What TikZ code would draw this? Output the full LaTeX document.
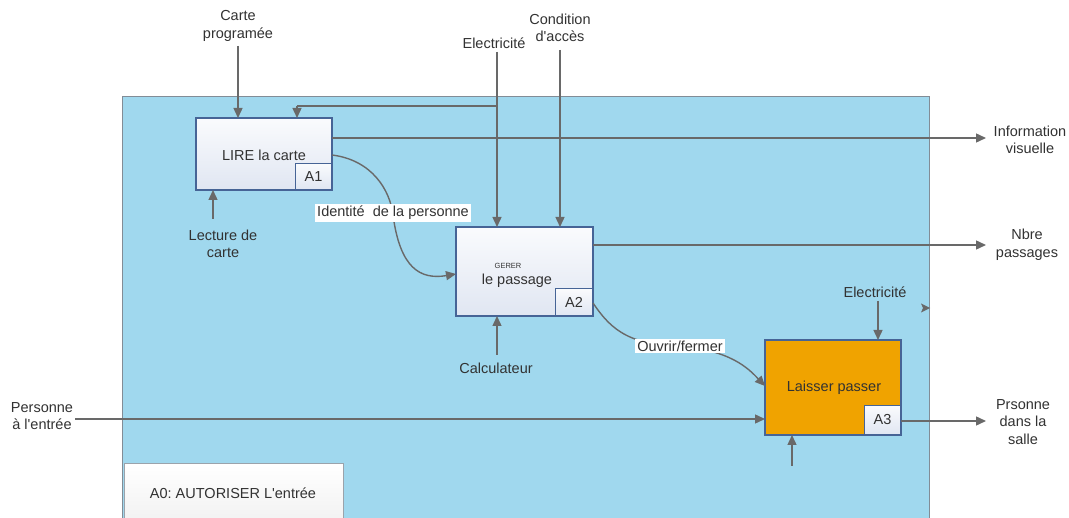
\documentclass[tikz,border=0pt]{standalone}
\usepackage{fontspec}
\setmainfont{Liberation Sans}[Ligatures=TeXOff]
\usetikzlibrary{arrows.meta}
\frenchspacing
\definecolor{sky}{RGB}{160,216,238}
\definecolor{frame}{RGB}{130,140,150}
\definecolor{wire}{RGB}{105,105,105}
\definecolor{boxedge}{RGB}{70,100,150}
\definecolor{boxtop}{RGB}{250,251,253}
\definecolor{boxbot}{RGB}{224,230,242}
\definecolor{amber}{RGB}{240,163,0}
\definecolor{ink}{RGB}{50,50,50}
\tikzset{
  txt/.style={font=\fontsize{14.5}{17.5}\selectfont, text=ink, align=center, inner sep=1pt},
  func/.style={draw=boxedge, line width=1.2pt, top color=boxtop, bottom color=boxbot},
  tag/.style={draw=boxedge, line width=1pt, top color=boxtop, bottom color=boxbot, font=\fontsize{14.5}{17}\selectfont, text=ink},
  flow/.style={draw=wire, line width=1.4pt, -{Triangle[length=10pt,width=9pt]}},
  plain/.style={draw=wire, line width=1.4pt},
  lab/.style={fill=white, font=\fontsize{14.5}{17}\selectfont, text=ink, inner sep=2pt}
}
\begin{document}
\begin{tikzpicture}[x=1pt,y=-1pt]
\useasboundingbox (0,0) rectangle (1069,518);
\clip (0,0) rectangle (1069,518);
\fill[white] (0,0) rectangle (1069,518);
% context frame
\draw[frame, fill=sky, line width=1pt] (122,97) rectangle (929,530);
% A0 title box
\draw[draw=frame!80, line width=1pt, top color=white, bottom color=black!6] (124,464) rectangle (343,530);
\node[txt] (title) at (233,493) {A0: AUTORISER L'entrée};

% function boxes
\draw[func] (196,118) rectangle (332,190);
\node[txt] (a1text) at (264,155) {LIRE la carte};
\node[tag, minimum width=36pt, minimum height=26pt, anchor=south east] (a1) at (332,190) {A1};

\draw[func] (456,227) rectangle (593,316);
\node[font=\fontsize{7.5}{8}\selectfont, text=ink, inner sep=0pt] (a2small) at (508,266) {GERER};
\node[txt] (a2text) at (517,281) {le passage};
\node[tag, minimum width=37pt, minimum height=27pt, anchor=south east] (a2) at (593,316) {A2};

\draw[draw=boxedge, line width=1.2pt, fill=amber] (765,340) rectangle (901,435);
\node[txt] (a3text) at (834,388) {Laisser passer};
\node[tag, minimum width=36pt, minimum height=29pt, anchor=south east] (a3) at (901,435) {A3};

% external labels
\node[txt] (carte) at (238,26) {Carte\\programée};
\node[txt] (elec1) at (494,43) {Electricité};
\node[txt] (cond) at (560,28) {Condition\\d'accès};
\node[txt] (lecture) at (223,244) {Lecture de\\carte};
\node[txt] (calc) at (496,368) {Calculateur};
\node[txt] (elec2) at (875,292) {Electricité};
\node[txt] (pers) at (42,416) {Personne\\à l'entrée};
\node[txt] (info) at (1030,140) {Information\\visuelle};
\node[txt] (nbre) at (1027,245) {Nbre\\passages};
\node[txt] (salle) at (1023,422) {Prsonne\\dans la\\salle};

% connection points
\coordinate (c1) at (238,46);
\coordinate (c1e) at (238,118);
\coordinate (e1) at (497,52);
\coordinate (e1e) at (497,227);
\coordinate (e1b) at (497,106);
\coordinate (e1c) at (297,106);
\coordinate (e1ce) at (297,118);
\coordinate (k1) at (560,50);
\coordinate (k1e) at (560,227);
\coordinate (l1) at (213,219);
\coordinate (l1e) at (213,190);
\coordinate (i1) at (332,138);
\coordinate (i1e) at (986,138);
\coordinate (n1) at (593,245);
\coordinate (n1e) at (986,245);
\coordinate (g1) at (497,355);
\coordinate (g1e) at (497,316);
\coordinate (x1) at (878,301);
\coordinate (x1e) at (878,340);
\coordinate (p1) at (75,419);
\coordinate (p1e) at (765,419);
\coordinate (b1) at (792,466);
\coordinate (b1e) at (792,435);
\coordinate (s1) at (901,421);
\coordinate (s1e) at (986,421);
\coordinate (d1) at (332,155);
\coordinate (d1e) at (456,274);
\coordinate (o1) at (593,303);
\coordinate (o1e) at (765,386);
\coordinate (m1e) at (930,308);

% controls
\draw[flow] (c1) -- (c1e);
\draw[flow] (e1) -- (e1e);
\draw[plain] (e1b) -- (e1c);
\draw[flow] (e1c) -- (e1ce);
\draw[flow] (k1) -- (k1e);
\draw[flow] (x1) -- (x1e);
% mechanisms
\draw[flow] (l1) -- (l1e);
\draw[flow] (g1) -- (g1e);
\draw[flow] (b1) -- (b1e);
% inputs and outputs
\draw[flow] (p1) -- (p1e);
\draw[flow] (i1) -- (i1e);
\draw[flow] (n1) -- (n1e);
\draw[flow] (s1) -- (s1e);
\draw[draw=none, fill=wire] (m1e) -- ++(-9,-4.5) -- ++(2,4.5) -- ++(-2,4.5) -- cycle;

% internal flows
\draw[flow] (d1) .. controls (372,160) and (390,190) .. (393,215)
  .. controls (400,268) and (420,280) .. (d1e);
\node[lab] (ident) at (393,213) {Identité\ \ de la personne};
\draw[flow] (o1) .. controls (608,325) and (625,345) .. (678,346)
  .. controls (730,350) and (748,368) .. (o1e);
\node[lab] (ouvrir) at (680,346) {Ouvrir/fermer};
\end{tikzpicture}
\end{document}
